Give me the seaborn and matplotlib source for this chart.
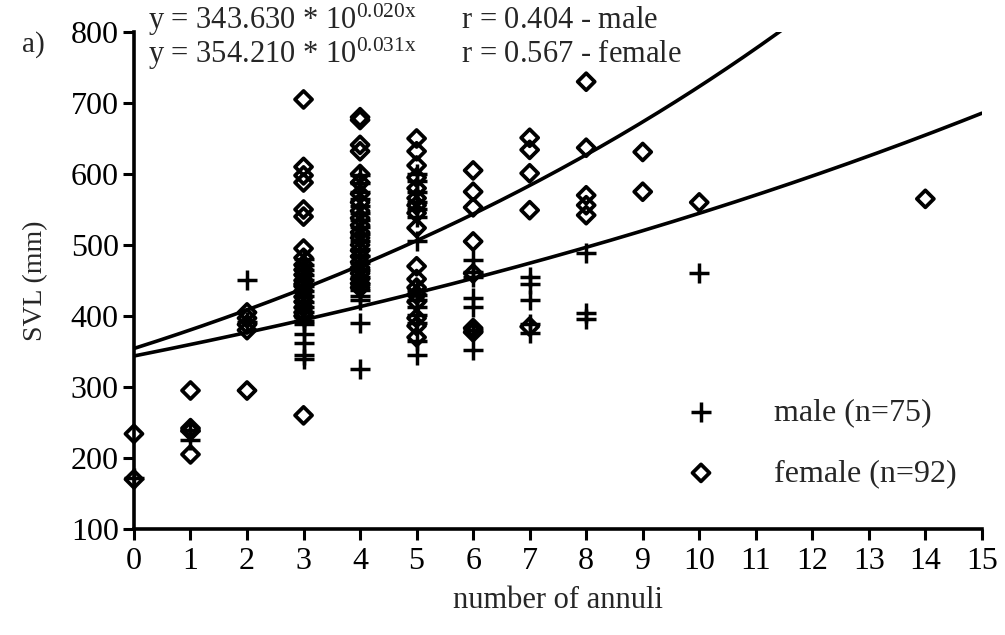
import numpy as np
import pandas as pd
import matplotlib
matplotlib.use("Agg")
import matplotlib.pyplot as plt
import seaborn as sns

# Snout-vent length (mm) by number of annuli
male_annuli = ([0] + [1] * 2 + [2] * 2 + [3] * 18 + [4] * 21 + [5] * 15
               + [6] * 7 + [7] * 5 + [8] * 3 + [10])
male_svl = [172,
            240, 225,
            450, 392,
            480, 472, 465, 458, 450, 442, 435, 428, 420, 412, 405, 398, 393, 388, 375, 362, 345, 340,
            598, 588, 575, 565, 555, 545, 535, 525, 515, 505, 495, 485, 475, 465, 455, 445, 437, 428, 422, 390, 325,
            600, 590, 575, 560, 550, 540, 505, 437, 430, 422, 412, 402, 390, 365, 345,
            479, 462, 455, 425, 413, 380, 352,
            455, 445, 422, 388, 376,
            489, 404, 396,
            460]

female_annuli = ([0] * 2 + [1] * 4 + [2] * 5 + [3] * 21 + [4] * 22 + [5] * 17
                 + [6] * 7 + [7] * 5 + [8] * 5 + [9] * 2 + [10] + [14])
female_svl = [234, 170,
              295, 242, 238, 205,
              405, 397, 388, 380, 295,
              705, 610, 598, 588, 550, 540, 495, 482, 472, 465, 458, 450, 445, 442, 435, 427, 420, 412, 405, 400, 260,
              680, 676, 641, 632, 600, 588, 572, 560, 548, 538, 528, 518, 510, 500, 492, 484, 476, 468, 460, 452, 446, 440,
              650, 632, 612, 595, 580, 566, 556, 545, 524, 470, 452, 440, 430, 420, 397, 386, 370,
              605, 575, 553, 505, 460, 383, 377,
              651, 634, 601, 549, 385,
              730, 637, 570, 556, 542,
              631, 575,
              560,
              565]

# Fitted growth curves y = a * 10^(b x)
male_a, male_b, male_r = 343.630, 0.020, 0.404
female_a, female_b, female_r = 354.210, 0.031, 0.567

x_ticks = list(range(0, 16))
y_ticks = list(range(100, 801, 100))

sns.set_style("ticks")
plt.rcParams["font.family"] = ["Liberation Serif", "DejaVu Serif"]
plt.rcParams["mathtext.fontset"] = "custom"
plt.rcParams["mathtext.rm"] = "Liberation Serif"
plt.rcParams["mathtext.it"] = "Liberation Serif"

fig = plt.figure(figsize=(10.05, 6.35), dpi=100)
ax = fig.add_axes([0.1333, 0.167, 0.8437, 0.7826])

male_df = pd.DataFrame({"annuli": male_annuli, "svl": male_svl})
female_df = pd.DataFrame({"annuli": female_annuli, "svl": female_svl})

grid = np.linspace(0, 15, 300)
fit_df = pd.DataFrame({
    "annuli": np.concatenate([grid, grid]),
    "svl": np.concatenate([male_a * 10 ** (male_b * grid), female_a * 10 ** (female_b * grid)]),
    "sex": ["male"] * len(grid) + ["female"] * len(grid),
})
sns.lineplot(data=fit_df, x="annuli", y="svl", units="sex", estimator=None,
             color="black", linewidth=2.6, ax=ax, legend=False)

sns.scatterplot(data=female_df, x="annuli", y="svl", marker="D", s=75,
                color="black", facecolor="none", edgecolor="black",
                linewidth=2.7, ax=ax, clip_on=False, zorder=3,
                label=f"female (n={len(female_svl)})")
sns.scatterplot(data=male_df, x="annuli", y="svl", marker="+", s=210,
                color="black", linewidth=2.5, ax=ax, clip_on=False, zorder=3,
                label=f"male (n={len(male_svl)})")

ax.set_xlim(0, 15)
ax.set_ylim(100, 800)
ax.set_xticks(x_ticks)
ax.set_yticks(y_ticks)
ax.tick_params(axis="both", direction="out", length=8, width=2.2,
               labelsize=23, color="black", labelcolor="black")
ax.tick_params(axis="x", pad=5)
ax.tick_params(axis="y", pad=3)
for side in ("left", "bottom"):
    ax.spines[side].set_linewidth(2.6)
    ax.spines[side].set_color("black")
sns.despine(ax=ax)

ax.set_xlabel("number of annuli", fontsize=22, labelpad=7)
ax.set_ylabel("SVL (mm)", fontsize=20, labelpad=16)

handles, labels = ax.get_legend_handles_labels()
order = [1, 0]
ax.legend([handles[i] for i in order], [labels[i] for i in order],
          loc="upper left", bbox_to_anchor=(0.616, 0.29), frameon=False,
          fontsize=23, handletextpad=1.3, labelspacing=1.0,
          borderaxespad=0)

fig.text(148 / 1005, 1 - 29 / 635,
         f"y = {male_a:.3f} * 10$^{{{male_b:.3f}x}}$      r = {male_r:.3f} - male",
         fontsize=22, va="baseline", ha="left")
fig.text(148 / 1005, 1 - 63 / 635,
         f"y = {female_a:.3f} * 10$^{{{female_b:.3f}x}}$      r = {female_r:.3f} - female",
         fontsize=22, va="baseline", ha="left")
fig.text(22 / 1005, 1 - 52 / 635, "a)", fontsize=21, va="baseline", ha="left")

fig.savefig("out.png", dpi=100, facecolor="white")
